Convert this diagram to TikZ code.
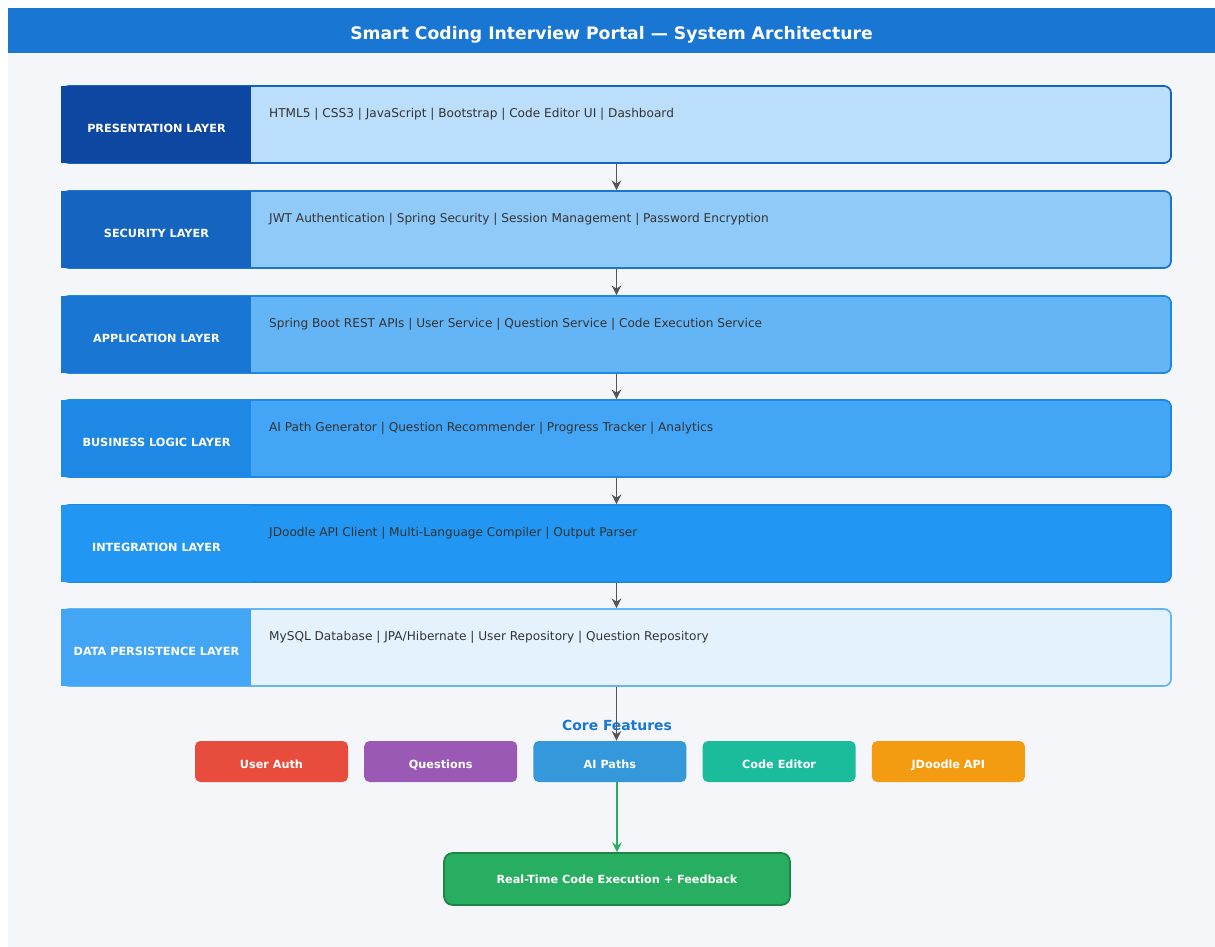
\documentclass[tikz,border=0pt]{standalone}
\usepackage{fontspec}
\setmainfont{DejaVu Sans}
\usepackage{xcolor}
\usepackage{tikz}
\usetikzlibrary{positioning,arrows.meta}

\definecolor{titleblue}{HTML}{1976D2}
\definecolor{pagebg}{HTML}{F5F6FA}
\definecolor{presdark}{HTML}{0D47A1}
\definecolor{preslight}{HTML}{BBDEFB}
\definecolor{secdark}{HTML}{1565C0}
\definecolor{seclight}{HTML}{90CAF9}
\definecolor{appdark}{HTML}{1976D2}
\definecolor{applight}{HTML}{64B5F6}
\definecolor{busdark}{HTML}{1E88E5}
\definecolor{buslight}{HTML}{42A5F5}
\definecolor{intdark}{HTML}{2196F3}
\definecolor{intlight}{HTML}{2196F3}
\definecolor{datadark}{HTML}{42A5F5}
\definecolor{datalight}{HTML}{E3F2FD}
\definecolor{arrowgrey}{HTML}{555555}
\definecolor{featred}{HTML}{E74C3C}
\definecolor{featpurple}{HTML}{9B59B6}
\definecolor{featblue}{HTML}{3498DB}
\definecolor{featteal}{HTML}{1ABC9C}
\definecolor{featorange}{HTML}{F39C12}
\definecolor{resultgreen}{HTML}{27AE60}
\definecolor{resultedge}{HTML}{1E8449}

\begin{document}
\begin{tikzpicture}[
    layerbox/.style={rectangle,rounded corners=4pt,line width=1pt,
      minimum width=22.18cm,minimum height=1.54cm},
    layertag/.style={rectangle,minimum width=3.8cm,minimum height=1.54cm,
      text height=8.6pt,text depth=0pt,
      text=white,font=\bfseries\fontsize{6.4}{7}\selectfont},
    layertext/.style={inner sep=0pt,text=black!80,
      font=\fontsize{6.9}{8}\selectfont},
    flow/.style={draw=arrowgrey,line width=0.8pt,-{Stealth[length=5.5pt,width=5.5pt]}},
    featbox/.style={rectangle,rounded corners=3pt,minimum width=3.06cm,
      minimum height=0.82cm,text height=7.8pt,text depth=0pt,
      text=white,font=\bfseries\fontsize{6.4}{7}\selectfont}
  ]
  \useasboundingbox (0,0) rectangle (24.3,-18.94);
  \fill[white] (0,0) rectangle (24.3,-18.94);
  \fill[pagebg] (0.16,-1.06) rectangle (24.3,-18.94);

  % title bar
  \node[fill=titleblue,minimum width=24.14cm,minimum height=0.9cm,
    text height=10pt,text depth=0pt,
    text=white,font=\bfseries\fontsize{9.8}{11}\selectfont] (title)
    at (12.23,-0.61) {Smart Coding Interview Portal — System Architecture};

  % layers
  \node[layerbox,fill=preslight,draw=secdark] (c1) at (12.33,-2.49) {};
  \node[layertag,fill=presdark,anchor=west] (l1) at (c1.west) {PRESENTATION LAYER};
  \node[layertext,below right=0.44cm and 0.34cm of l1.north east] (t1)
    {HTML5 | CSS3 | JavaScript | Bootstrap | Code Editor UI | Dashboard};

  \node[layerbox,fill=seclight,draw=appdark] (c2) at (12.33,-4.59) {};
  \node[layertag,fill=secdark,anchor=west] (l2) at (c2.west) {SECURITY LAYER};
  \node[layertext,below right=0.44cm and 0.34cm of l2.north east] (t2)
    {JWT Authentication | Spring Security | Session Management | Password Encryption};

  \node[layerbox,fill=applight,draw=busdark] (c3) at (12.33,-6.69) {};
  \node[layertag,fill=appdark,anchor=west] (l3) at (c3.west) {APPLICATION LAYER};
  \node[layertext,below right=0.44cm and 0.34cm of l3.north east] (t3)
    {Spring Boot REST APIs | User Service | Question Service | Code Execution Service};

  \node[layerbox,fill=buslight,draw=busdark] (c4) at (12.33,-8.77) {};
  \node[layertag,fill=busdark,anchor=west] (l4) at (c4.west) {BUSINESS LOGIC LAYER};
  \node[layertext,below right=0.44cm and 0.34cm of l4.north east] (t4)
    {AI Path Generator | Question Recommender | Progress Tracker | Analytics};

  \node[layerbox,fill=intlight,draw=busdark] (c5) at (12.33,-10.87) {};
  \node[layertag,fill=intdark,anchor=west] (l5) at (c5.west) {INTEGRATION LAYER};
  \node[layertext,below right=0.44cm and 0.34cm of l5.north east] (t5)
    {JDoodle API Client | Multi-Language Compiler | Output Parser};

  \node[layerbox,fill=datalight,draw=applight] (c6) at (12.33,-12.95) {};
  \node[layertag,fill=datadark,anchor=west] (l6) at (c6.west) {DATA PERSISTENCE LAYER};
  \node[layertext,below right=0.44cm and 0.34cm of l6.north east] (t6)
    {MySQL Database | JPA/Hibernate | User Repository | Question Repository};

  \draw[flow] (c1) -- (c2);
  \draw[flow] (c2) -- (c3);
  \draw[flow] (c3) -- (c4);
  \draw[flow] (c4) -- (c5);
  \draw[flow] (c5) -- (c6);

  % core features
  \node[text=titleblue,font=\bfseries\fontsize{7.9}{9}\selectfont] (core)
    at (12.34,-14.5) {Core Features};
  \node[featbox,fill=featred] (f1) at (5.43,-15.23) {User Auth};
  \node[featbox,fill=featpurple,right=0.31cm of f1] (f2) {Questions};
  \node[featbox,fill=featblue,right=0.31cm of f2] (f3) {AI Paths};
  \node[featbox,fill=featteal,right=0.31cm of f3] (f4) {Code Editor};
  \node[featbox,fill=featorange,right=0.31cm of f4] (f5) {JDoodle API};

  \node[rectangle,rounded corners=5pt,fill=resultgreen,draw=resultedge,line width=1pt,
    minimum width=6.92cm,minimum height=1.04cm,text=white,
    font=\bfseries\fontsize{6.4}{7}\selectfont] (result)
    at (12.34,-17.58) {Real-Time Code Execution + Feedback};

  \draw[flow] (c6.south) -- (c6.south |- f3.north);
  \draw[draw=resultgreen,line width=0.8pt,-{Stealth[length=5.5pt,width=5.5pt]}]
    (f3.south -| result.north) -- (result.north);
\end{tikzpicture}
\end{document}
